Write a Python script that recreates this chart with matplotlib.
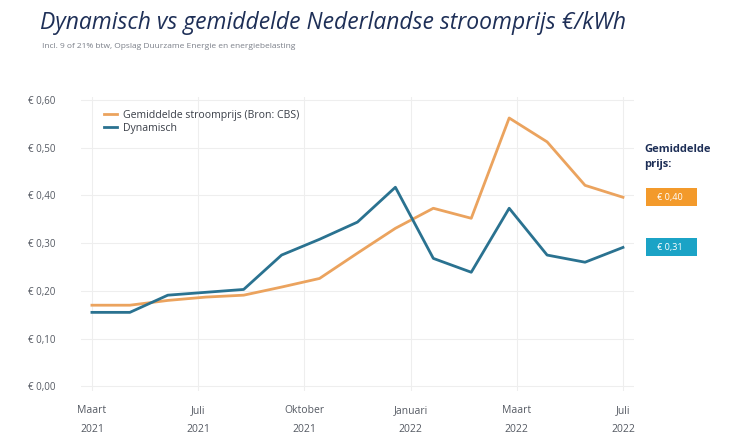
import numpy as np
import matplotlib
matplotlib.use('Agg')
import matplotlib.pyplot as plt

# maandwaarden (€/kWh), maart 2021 t/m juli 2022
gemiddeld = [0.170, 0.170, 0.180, 0.187, 0.191, 0.208, 0.226, 0.279, 0.331,
             0.373, 0.352, 0.562, 0.512, 0.421, 0.396]
dynamisch = [0.155, 0.155, 0.191, 0.197, 0.203, 0.275, 0.308, 0.344, 0.417,
             0.268, 0.239, 0.373, 0.275, 0.260, 0.291]
x_labels = ['Maart\n2021', 'Juli\n2021', 'Oktober\n2021', 'Januari\n2022', 'Maart\n2022', 'Juli\n2022']
y_ticks = [0.0, 0.1, 0.2, 0.3, 0.4, 0.5, 0.6]
box_labels = ['€ 0,40', '€ 0,31']

oranje = '#EBA35E'
blauw = '#2A7290'
navy = '#1E2F57'
grijs = '#7A7F88'

plt.rcParams['font.family'] = ['Open Sans', 'DejaVu Sans']

fig = plt.figure(figsize=(7.39, 4.43), dpi=100)
ax = fig.add_axes([0.109, 0.117, 0.7494, 0.663])

x = np.arange(len(gemiddeld))
ax.plot(x, gemiddeld, color=oranje, lw=2, label='Gemiddelde stroomprijs (Bron: CBS)')
ax.plot(x, dynamisch, color=blauw, lw=2, label='Dynamisch')

ax.set_xlim(-0.3, 14.3)
ax.set_ylim(-0.01, 0.605)
xt = np.linspace(0, len(gemiddeld) - 1, len(x_labels))
ax.set_xticks(xt)
ax.set_xticklabels(x_labels, fontsize=7.5, color='#555a63', linespacing=2.0)
ax.set_yticks(y_ticks)
ax.set_yticklabels(['€ ' + f'{v:.2f}'.replace('.', ',') for v in y_ticks], fontsize=7, color='#555a63')
ax.tick_params(axis='both', length=0)
ax.tick_params(axis='y', pad=18)
ax.tick_params(axis='x', pad=10)
ax.grid(True, color='#eeeeee', lw=0.8)
ax.set_axisbelow(True)
for s in ax.spines.values():
    s.set_visible(False)

leg = ax.legend(loc='upper left', bbox_to_anchor=(0.025, 0.99), frameon=False,
                fontsize=7.6, handlelength=1.2, handletextpad=0.6, labelspacing=0.2)
for t in leg.get_texts():
    t.set_color('#3a3f48')

fig.text(0.054, 0.948, 'Dynamisch vs gemiddelde Nederlandse stroomprijs €/kWh',
         fontsize=16.5, style='italic', color=navy, va='center')
fig.text(0.057, 0.895, 'Incl. 9 of 21% btw, Opslag Duurzame Energie en energiebelasting',
         fontsize=6, color=grijs, va='center')

fig.text(0.872, 0.645, 'Gemiddelde\nprijs:', fontsize=8, fontweight='bold', color=navy,
         va='center', linespacing=1.5)
for val, kleur, lbl in [(gemiddeld[-1], '#F39A2B', box_labels[0]), (dynamisch[-1], '#1BA3C6', box_labels[1])]:
    ax.annotate('   ' + lbl + '    ', xy=(1.0, val), xycoords=('axes fraction', 'data'),
                xytext=(11.5, 0), textcoords='offset points', fontsize=6.5, color='white',
                va='center', ha='left',
                bbox=dict(boxstyle='square,pad=0.5', fc=kleur, ec='none'))

fig.savefig('out.png', dpi=100)
